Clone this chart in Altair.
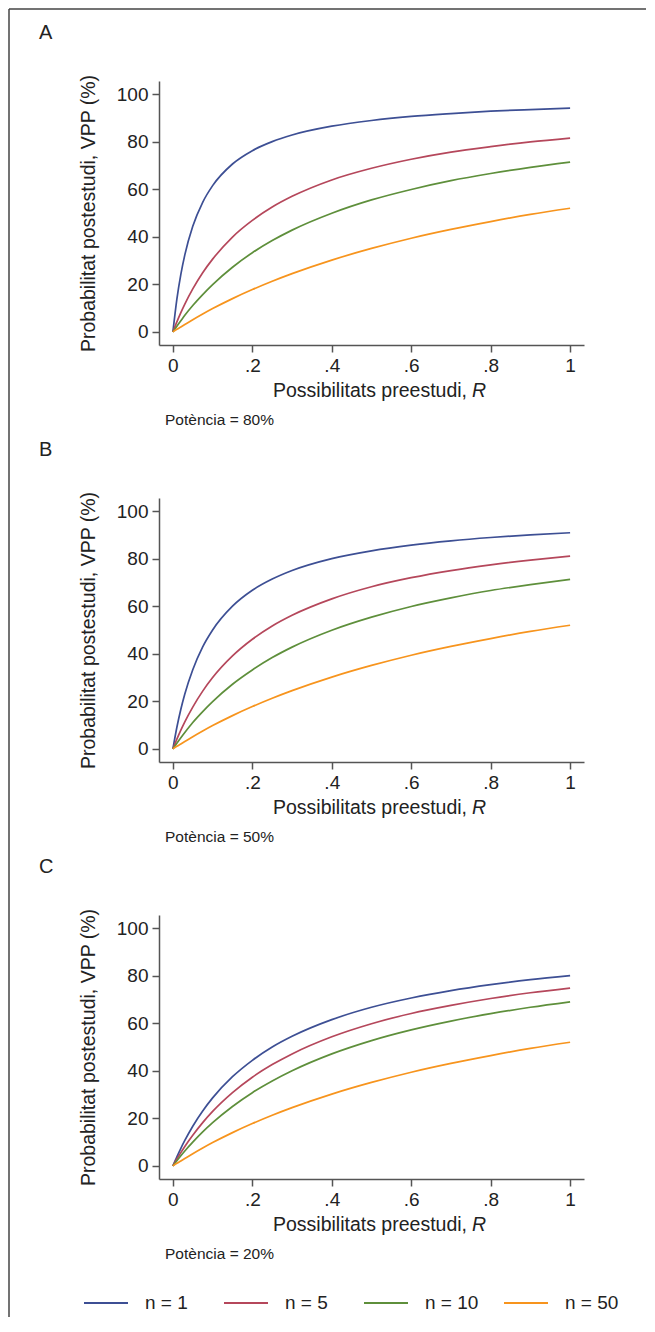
import altair as alt
import pandas as pd

# ---------------- data ----------------
R_VALUES = [0, 0.01, 0.02, 0.03, 0.05, 0.075, 0.1, 0.15, 0.2, 0.25, 0.3,
            0.4, 0.5, 0.6, 0.7, 0.8, 0.9, 1.0]

SERIES = ["n = 1", "n = 5", "n = 10", "n = 50"]
COLORS = ["#3d4f94", "#b5475b", "#5e8f3b", "#f7941d"]

# Panel A (power 80%)
A_N1 = [0, 13.8, 24.2, 32.4, 44.4, 54.5, 61.5, 70.6, 76.2, 80.0, 82.8, 86.5, 88.9, 90.6, 91.8, 92.8, 93.5, 94.1]
A_N5 = [0, 4.2, 8.1, 11.7, 18.1, 24.9, 30.6, 39.9, 46.9, 52.5, 57.0, 63.9, 68.8, 72.6, 75.6, 77.9, 79.9, 81.5]
A_N10 = [0, 2.4, 4.7, 7.0, 11.1, 15.7, 19.9, 27.2, 33.3, 38.4, 42.8, 49.9, 55.5, 59.9, 63.6, 66.6, 69.2, 71.4]
A_N50 = [0, 1.1, 2.1, 3.1, 5.1, 7.5, 9.8, 14.0, 17.8, 21.3, 24.5, 30.2, 35.1, 39.4, 43.1, 46.4, 49.4, 52.0]

# Panel B (power 50%)
B_N1 = [0, 9.1, 16.7, 23.1, 33.3, 42.9, 50.0, 60.0, 66.7, 71.4, 75.0, 80.0, 83.3, 85.7, 87.5, 88.9, 90.0, 90.9]
B_N5 = [0, 4.1, 7.9, 11.4, 17.6, 24.3, 30.0, 39.1, 46.1, 51.7, 56.2, 63.1, 68.2, 72.0, 75.0, 77.4, 79.4, 81.1]
B_N10 = [0, 2.4, 4.7, 6.9, 11.1, 15.7, 19.9, 27.2, 33.2, 38.4, 42.8, 49.9, 55.4, 59.9, 63.5, 66.6, 69.1, 71.3]
B_N50 = [0, 1.1, 2.1, 3.1, 5.1, 7.5, 9.8, 14.0, 17.8, 21.3, 24.5, 30.2, 35.1, 39.4, 43.1, 46.4, 49.4, 52.0]

# Panel C (power 20%)
C_N1 = [0, 3.8, 7.4, 10.7, 16.7, 23.1, 28.6, 37.5, 44.4, 50.0, 54.5, 61.5, 66.7, 70.6, 73.7, 76.2, 78.3, 80.0]
C_N5 = [0, 2.9, 5.6, 8.2, 12.9, 18.2, 22.9, 30.8, 37.3, 42.6, 47.1, 54.3, 59.8, 64.1, 67.5, 70.4, 72.8, 74.8]
C_N10 = [0, 2.2, 4.3, 6.3, 10.0, 14.3, 18.2, 25.0, 30.8, 35.7, 40.0, 47.1, 52.7, 57.2, 60.9, 64.0, 66.7, 69.0]
C_N50 = [0, 1.1, 2.1, 3.1, 5.1, 7.5, 9.8, 14.0, 17.8, 21.3, 24.5, 30.2, 35.1, 39.4, 43.1, 46.4, 49.4, 52.0]

PANEL_LETTERS = ["A", "B", "C"]
POWER_LABELS = ["Potència = 80%", "Potència = 50%", "Potència = 20%"]
X_TITLE = "Possibilitats preestudi,"
X_TITLE_ITALIC = "R"
Y_TITLE = "Probabilitat postestudi, VPP (%)"
X_TICKS = [0, 0.2, 0.4, 0.6, 0.8, 1]
Y_TICKS = [0, 20, 40, 60, 80, 100]

# ---------------- styling ----------------
FONT = "Liberation Sans"
TEXT = "#222222"
AXIS = "#555555"
W, H = 425, 264

one = pd.DataFrame({"k": [0]})


def panel(idx, series_lists, with_frame=False):
    rows = []
    for s, vals in zip(SERIES, series_lists):
        for r, v in zip(R_VALUES, vals):
            rows.append({"R": r, "VPP": v, "serie": s})
    df = pd.DataFrame(rows)

    legend = alt.Legend(
        title=None, orient="none", legendX=-76, legendY=1199,
        direction="horizontal", columns=4, gridAlign="all",
        symbolType="stroke", symbolSize=1936, symbolStrokeWidth=2,
        labelFont=FONT, labelFontSize=19, labelColor=TEXT,
        labelOffset=16, columnPadding=21, padding=0,
    )

    lines = alt.Chart(df).mark_line(strokeWidth=1.7, interpolate="monotone").encode(
        x=alt.X("R:Q",
                scale=alt.Scale(domain=[-0.035, 1.035], nice=False, zero=False),
                axis=alt.Axis(values=X_TICKS, title=None,
                              labelExpr="datum.value == 0 ? '0' : datum.value == 1 ? '1' : '.' + format(datum.value * 10, 'd')")),
        y=alt.Y("VPP:Q",
                scale=alt.Scale(domain=[-5.5, 105.5], nice=False, zero=False),
                axis=alt.Axis(values=Y_TICKS, title=Y_TITLE, titlePadding=18)),
        color=alt.Color("serie:N", scale=alt.Scale(domain=SERIES, range=COLORS),
                        sort=SERIES, legend=legend),
    )

    letter = alt.Chart(one).mark_text(
        text=PANEL_LETTERS[idx], font=FONT, fontSize=20, color=TEXT,
        align="left", baseline="alphabetic"
    ).encode(x=alt.value(-120), y=alt.value(-42))

    power = alt.Chart(one).mark_text(
        text=POWER_LABELS[idx], font=FONT, fontSize=15.5, color=TEXT,
        align="left", baseline="alphabetic"
    ).encode(x=alt.value(6), y=alt.value(H + 80))

    xt1 = alt.Chart(one).mark_text(
        text=X_TITLE, font=FONT, fontSize=19.5, color=TEXT,
        align="right", baseline="alphabetic"
    ).encode(x=alt.value(308), y=alt.value(H + 52))

    xt2 = alt.Chart(one).mark_text(
        text=X_TITLE_ITALIC, font=FONT, fontSize=19.5, color=TEXT,
        fontStyle="italic", align="left", baseline="alphabetic"
    ).encode(x=alt.value(313), y=alt.value(H + 52))

    layers = [lines, letter, power, xt1, xt2]
    if with_frame:
        frame_left = alt.Chart(one).mark_rule(color="#444444", strokeWidth=1.5).encode(
            x=alt.value(-150), y=alt.value(-72), y2=alt.value(1236))
        frame_top = alt.Chart(one).mark_rule(color="#444444", strokeWidth=1.5).encode(
            x=alt.value(-150), x2=alt.value(487), y=alt.value(-72))
        layers += [frame_left, frame_top]

    return alt.layer(*layers).properties(width=W, height=H)


pA = panel(0, [A_N1, A_N5, A_N10, A_N50], with_frame=True)
pB = panel(1, [B_N1, B_N5, B_N10, B_N50])
pC = panel(2, [C_N1, C_N5, C_N10, C_N50])

chart = alt.vconcat(pA, pB, pC, spacing=153, bounds="flush").resolve_scale(
    color="shared"
).properties(padding=0).configure_view(stroke=None).configure_axis(
    grid=False,
    domainColor=AXIS, domainWidth=1.5,
    tickColor=AXIS, tickWidth=1.5, tickSize=7,
    labelFont=FONT, labelFontSize=19, labelColor=TEXT, labelPadding=4,
    titleFont=FONT, titleFontSize=19.5, titleColor=TEXT, titleFontWeight="normal",
)

chart.save("out.html", embed_options={"renderer": "svg", "actions": False})
